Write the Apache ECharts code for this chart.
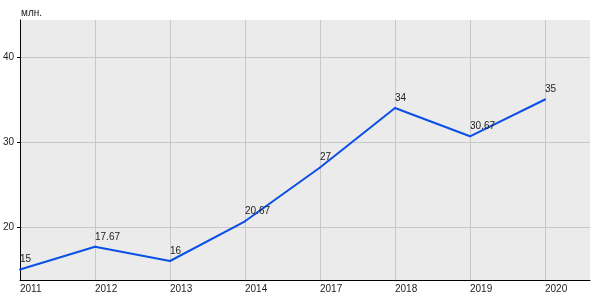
<!DOCTYPE html>
<html>
<head>
<meta charset="utf-8">
<script src="https://cdn.jsdelivr.net/npm/echarts@6/dist/echarts.min.js"></script>
<style>html,body{margin:0;padding:0;background:#fff}#c{width:600px;height:300px}</style>
</head>
<body>
<div id="c"></div>
<script>
var categories = ['2011', '2012', '2013', '2014', '2017', '2018', '2019', '2020'];
var values = [15, 17.67, 16, 20.67, 27, 34, 30.67, 35];
var yTicks = [20, 30, 40];
var unitLabel = 'млн.';

var chart = echarts.init(document.getElementById('c'), null, {renderer: 'canvas'});
var font = 'Liberation Sans, Arial, sans-serif';
chart.setOption({
  animation: false,
  title: {text: unitLabel, left: 16, top: 3, textStyle: {fontFamily: font, fontSize: 10, fontWeight: 'normal', color: '#222'}},
  grid: {left: 20, right: 10, top: 20, bottom: 20, show: true, backgroundColor: '#ebebeb', borderWidth: 0, containLabel: false, outerBoundsMode: 'none'},
  xAxis: {
    type: 'value', min: 0, max: 7.6, interval: 1,
    axisLine: {show: true, onZero: false, lineStyle: {color: '#000', width: 1}},
    axisTick: {show: false},
    axisLabel: {fontFamily: font, fontSize: 10, color: '#222', margin: 4, align: 'left',
      showMaxLabel: false,
      formatter: function (v) { return Number.isInteger(v) && categories[v] !== undefined ? categories[v] : ''; }},
    splitLine: {show: true, showMinLine: false, showMaxLine: false, lineStyle: {color: '#c8c8c8', width: 1}}
  },
  yAxis: {
    type: 'value', min: 13.765, max: 44.35,
    axisLine: {show: true, onZero: false, lineStyle: {color: '#000', width: 1}},
    axisTick: {show: true, length: 3, customValues: yTicks, lineStyle: {color: '#000'}},
    axisLabel: {fontFamily: font, fontSize: 10, color: '#222', margin: 6, customValues: yTicks},
    splitLine: {show: false}
  },
  series: [{
    type: 'line',
    data: values.map(function (v, i) { return [i, v]; }),
    symbol: 'circle', symbolSize: 2, showSymbol: true,
    itemStyle: {color: '#0a4fe6'},
    lineStyle: {color: '#0a4fe6', width: 2},
    label: {show: true, position: 'top', align: 'left', distance: 4,
      fontFamily: font, fontSize: 10, color: '#222',
      formatter: function (p) { return String(values[p.dataIndex]); }},
    markLine: {
      silent: true, symbol: 'none', label: {show: false},
      lineStyle: {color: '#c8c8c8', width: 1, type: 'solid'},
      data: yTicks.map(function (t) { return {yAxis: t}; }),
      z: 0
    },
    clip: false
  }]
});
</script>
</body>
</html>
